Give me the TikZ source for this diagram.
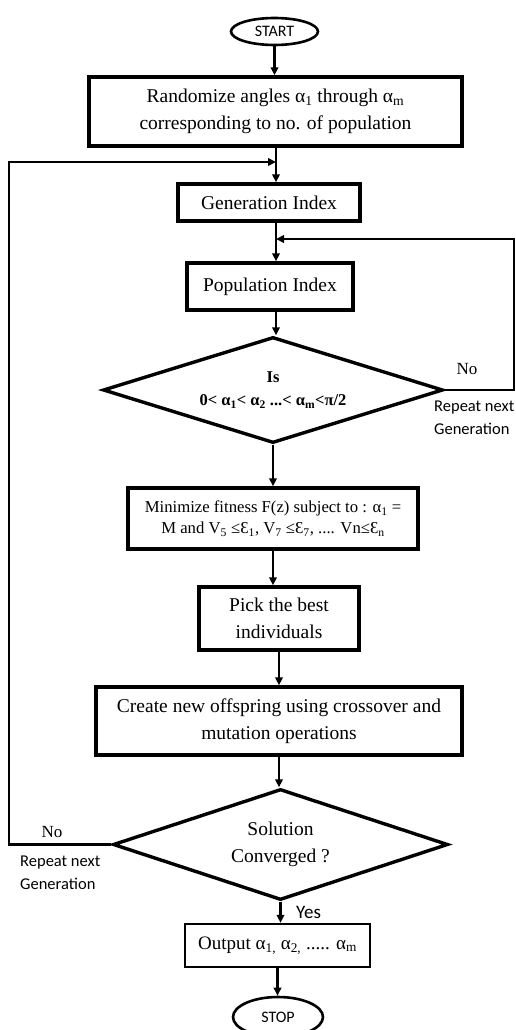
\documentclass[tikz,border=0pt]{standalone}
\usepackage{fontspec}
\setmainfont{Liberation Serif}
\newfontfamily\labelfont{Carlito}
\usetikzlibrary{shapes.geometric, arrows.meta, positioning, calc}

\begin{document}
\begin{tikzpicture}[x=1pt,y=-1pt,
  procbox/.style={draw, line width=3.4pt, align=center, inner sep=0pt,
    font=\fontsize{19.5}{27}\selectfont},
  decbox/.style={draw, diamond, line width=3.4pt, align=center, inner sep=0pt},
  termbox/.style={draw, ellipse, line width=2.6pt, inner sep=0pt,
    font=\labelfont\fontsize{16}{19}\selectfont},
  arr/.style={line width=2.8pt, -{Triangle[length=8pt,width=7.5pt]}},
  lbl/.style={font=\labelfont\fontsize{16.5}{23}\selectfont, align=left, inner sep=0pt}]
\useasboundingbox (0,0) rectangle (516,1030);

% Main column
\node[termbox, minimum width=87, minimum height=27] (start) at (274.5,31.5) {START};
\node[procbox, minimum width=373, minimum height=69] (rand) at (275.5,111.5)
  {Randomize angles α\textsubscript{1} through α\textsubscript{m}\\corresponding to no. of population};
\node[procbox, minimum width=182, minimum height=37] (gen) at (269,202.5) {Generation Index};
\node[procbox, minimum width=166, minimum height=47] (pop) at (270,286.5) {Population Index};
\node[decbox, aspect=3.2, minimum width=340, minimum height=106,
  font=\bfseries\fontsize{16.5}{23}\selectfont] (check) at (273,390)
  {Is\\0< α\textsubscript{1}< α\textsubscript{2} ...< α\textsubscript{m}<π/2};
\node[procbox, minimum width=290, minimum height=61,
  font=\fontsize{16.7}{21}\selectfont] (fit) at (273,518.5)
  {Minimize fitness F(z) subject to : α\textsubscript{1} =\\M and V\textsubscript{5} ≤Ɛ\textsubscript{1}, V\textsubscript{7} ≤Ɛ\textsubscript{7}, .... Vn≤Ɛ\textsubscript{n}};
\node[procbox, minimum width=160, minimum height=63] (pick) at (279,618.5) {Pick the best\\individuals};
\node[procbox, minimum width=366, minimum height=68] (create) at (279,721)
  {Create new offspring using crossover and\\mutation operations};
\node[decbox, aspect=3, minimum width=335, minimum height=111,
  font=\fontsize{19.5}{27}\selectfont] (conv) at (280.5,844.5) {Solution\\Converged ?};
\node[procbox, line width=2.4pt, minimum width=185, minimum height=43,
  font=\fontsize{19}{22}\selectfont] (out) at (277.5,945.5)
  {Output α\textsubscript{1,} α\textsubscript{2,} ..... α\textsubscript{m}};
\node[termbox, minimum width=90, minimum height=40] (stop) at (278,1017) {STOP};

% Junctions of the loops
\coordinate (j1) at (276,162);
\coordinate (j2) at (276,239);

% Straight connectors
\draw[arr] (start.south) -- (start.south |- rand.north);
\draw[arr] (rand.south -| j1) -- (j1 |- gen.north);
\draw[arr] (gen.south -| j2) -- (j2 |- pop.north);
\draw[arr] (pop.south -| j2) -- (j2 |- check.north);
\draw[arr] (check.south) -- (check.south |- fit.north);
\draw[arr] (fit.south) -- (fit.south |- pick.north);
\draw[arr] (pick.south) -- (pick.south |- create.north);
\draw[arr] (create.south) -- (create.south |- conv.north);
\draw[arr] (conv.south) -- (conv.south |- out.north);
\draw[arr] (out.south) -- (out.south |- stop.north);

% Loops back
\draw[arr] (check.east) -- (514,390) -- (514,239) -- (j2);
\draw[arr] (conv.west) -- (9,844.5) -- (9,162) -- (j1);

% Labels
\node[font=\fontsize{17}{20}\selectfont] (no1) at (467,369) {No};
\node[lbl, anchor=west] (rep1) at (434,417.5) {Repeat next\\Generation};
\node[font=\fontsize{17}{20}\selectfont] (no2) at (52,832) {No};
\node[lbl, anchor=west] (rep2) at (20,872.5) {Repeat next\\Generation};
\node[lbl, anchor=west, font=\labelfont\fontsize{19}{23}\selectfont] (yes) at (296,912) {Yes};
\end{tikzpicture}
\end{document}
